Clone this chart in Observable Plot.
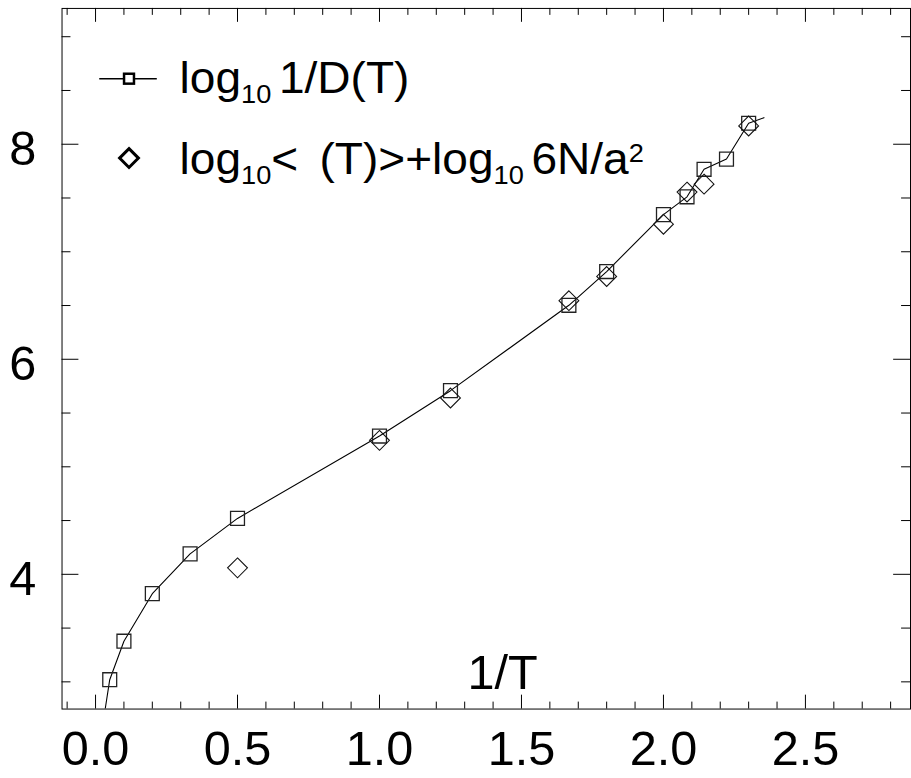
<!DOCTYPE html>
<html><head><meta charset="utf-8">
<script src="https://cdn.jsdelivr.net/npm/d3@7"></script>
<script src="https://cdn.jsdelivr.net/npm/@observablehq/plot@0.6"></script>
<style>
html,body{margin:0;padding:0;background:#fff;overflow:hidden}
#chart{width:911px;height:778px;overflow:hidden;position:relative}
#chart svg{display:block}
</style></head><body><div id="chart"></div>
<script>
// 1/T values and log10 1/D(T) (squares, connected by the line)
const invT = [0.05, 0.1, 0.2, 0.333, 0.5, 1.0, 1.25, 1.667, 1.8, 2.0, 2.083, 2.143, 2.222, 2.3];
const logInvD = [3.02, 3.378, 3.82, 4.19, 4.52, 5.286, 5.708, 6.502, 6.816, 7.345, 7.511, 7.767, 7.862, 8.195];
// diamonds: log10 <tau(T)> + log10 6N/a^2
const invTDiamond = [0.5, 1.0, 1.25, 1.667, 1.8, 2.0, 2.083, 2.143, 2.3];
const logTau = [4.06, 5.246, 5.64, 6.545, 6.77, 7.256, 7.555, 7.629, 8.17];
// line through the squares, with its end pieces
const curveX = [0.034, ...invT, 2.354];
const curveY = [2.747, ...logInvD, 8.247];
// ticks
const xMajorTicks = [0, 0.5, 1.0, 1.5, 2.0, 2.5];
const xMinorTicks = [-0.1, 0.1, 0.2, 0.3, 0.4, 0.6, 0.7, 0.8, 0.9, 1.1, 1.2, 1.3, 1.4, 1.6, 1.7, 1.8, 1.9, 2.1, 2.2, 2.3, 2.4, 2.6, 2.7, 2.8];
const yMajorTicks = [4, 6, 8];
const yMinorTicks = [3, 3.5, 4.5, 5, 5.5, 6.5, 7, 7.5, 8.5, 9];
const xLabel = "1/T";

const W = 918, H = 778, mL = 62, mR = 1, mT = 8, mB = 64;
const fw = W - mL - mR, fh = H - mT - mB;
const font = "'Liberation Sans', Arial, Helvetica, sans-serif";

const squares = invT.map((x, i) => ({x, y: logInvD[i]}));
const diamonds = invTDiamond.map((x, i) => ({x, y: logTau[i]}));
const curve = curveX.map((x, i) => ({x, y: curveY[i]}));

const plot = Plot.plot({
  width: W, height: H,
  marginLeft: mL, marginRight: mR, marginTop: mT, marginBottom: mB,
  style: {fontFamily: font, background: "#fff", color: "#000"},
  x: {domain: [-0.118, 2.87], label: null},
  y: {domain: [2.747, 9.263], label: null},
  marks: [
    Plot.frame({stroke: "#000", strokeWidth: 1}),
    // bottom & top ticks
    Plot.tickX(xMinorTicks, {x: d => d, insetTop: fh - 7, stroke: "#000"}),
    Plot.tickX(xMajorTicks, {x: d => d, insetTop: fh - 14, stroke: "#000"}),
    Plot.tickX(xMinorTicks, {x: d => d, insetBottom: fh - 7, stroke: "#000"}),
    Plot.tickX(xMajorTicks, {x: d => d, insetBottom: fh - 14, stroke: "#000"}),
    // left & right ticks
    Plot.tickY(yMinorTicks, {y: d => d, insetRight: fw - 9, stroke: "#000"}),
    Plot.tickY(yMajorTicks, {y: d => d, insetRight: fw - 17, stroke: "#000"}),
    Plot.tickY(yMinorTicks, {y: d => d, insetLeft: fw - 9, stroke: "#000"}),
    Plot.tickY(yMajorTicks, {y: d => d, insetLeft: fw - 17, stroke: "#000"}),
    Plot.axisX({anchor: "bottom", ticks: xMajorTicks, tickSize: 0, tickPadding: 22,
      tickFormat: d3.format(".1f"), fontSize: 49, label: null}),
    Plot.axisY({anchor: "left", ticks: yMajorTicks, tickSize: 0, tickPadding: 26,
      tickFormat: d3.format("d"), fontSize: 49, label: null, dy: 5}),
    Plot.line(curve, {x: "x", y: "y", stroke: "#000", strokeWidth: 1.1, clip: "frame"}),
    Plot.dot(squares, {x: "x", y: "y", symbol: "square", r: 7.9, stroke: "#222", strokeWidth: 1.3, fill: "none"}),
    Plot.dot(diamonds, {x: "x", y: "y", symbol: "diamond2", r: 9.0, stroke: "#111", strokeWidth: 1.1, fill: "none"}),
    Plot.text([xLabel], {frameAnchor: "bottom", text: d => d, fontSize: 49, lineAnchor: "middle", dx: 16.5, dy: -36, fill: "#000"})
  ]
});
document.getElementById("chart").appendChild(plot);

// legend inside the frame (top-left)
const svg = d3.select(plot);
const lg = svg.append("g").attr("class", "legend").attr("font-family", font)
  .attr("fill", "#000").attr("text-anchor", "start");
lg.append("line").attr("x1", 100).attr("x2", 158).attr("y1", 79.3).attr("y2", 79.3)
  .attr("stroke", "#000").attr("stroke-width", 1.5);
lg.append("rect").attr("x", 125).attr("y", 74.3).attr("width", 10).attr("height", 10)
  .attr("fill", "#fff").attr("stroke", "#000").attr("stroke-width", 2.5);
lg.append("path").attr("d", "M130,149.8L139.5,159.3L130,168.8L120.5,159.3Z")
  .attr("fill", "none").attr("stroke", "#000").attr("stroke-width", 3);

const sx = 1.055, tx = 181;
const stretch = `matrix(${sx},0,0,1,${-tx * (sx - 1)},0)`;

const t1 = lg.append("text").attr("x", tx).attr("y", 93.3).attr("font-size", 44)
  .attr("text-anchor", "start").attr("transform", stretch);
t1.append("tspan").text("log");
t1.append("tspan").attr("font-size", 26).attr("dy", 10).text("10 ");
t1.append("tspan").attr("dy", -10).text("1/D(T)");

const t2 = lg.append("text").attr("x", tx).attr("y", 175).attr("font-size", 44)
  .attr("text-anchor", "start").attr("transform", stretch);
t2.append("tspan").text("log");
t2.append("tspan").attr("font-size", 26).attr("dy", 10).text("10");
t2.append("tspan").attr("dy", -10).text("<");
t2.append("tspan").attr("dx", 8).text(" (T)>+log");
t2.append("tspan").attr("font-size", 26).attr("dy", 10).text("10 ");
t2.append("tspan").attr("dy", -10).text("6N/a");
t2.append("tspan").attr("font-size", 26).attr("dy", -11.4).text("2");
</script></body></html>
